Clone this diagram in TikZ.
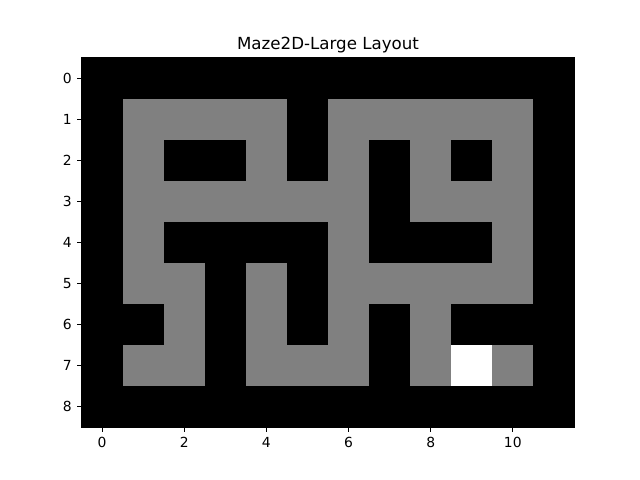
\documentclass[tikz,border=0pt]{standalone}
\usepackage{fontspec}
\setmainfont{DejaVu Sans}
\definecolor{mgrey}{RGB}{128,128,128}
\tikzset{
  tickline/.style={line width=0.8pt, black},
  ticklabel/.style={inner sep=0pt, font=\fontsize{10}{12}\selectfont},
  cellgrey/.style={fill=mgrey},
  cellwhite/.style={fill=white}
}
\begin{document}
\begin{tikzpicture}[x=0.72pt,y=-0.72pt]
\useasboundingbox (0,0) rectangle (640,480);
\fill[white] (0,0) rectangle (640,480);
\def\s{41.0667}
\def\xo{81.6}
\def\yo{57.6}
% background (walls)
\fill[black] (\xo,\yo) rectangle ++(492.8,369.6);
% open cells
\foreach \r/\cs in {1/{1,2,3,4,6,7,8,9,10},
                    2/{1,4,6,8,10},
                    3/{1,2,3,4,5,6,8,9,10},
                    4/{1,6,10},
                    5/{1,2,4,6,7,8,9,10},
                    6/{2,4,6,8},
                    7/{1,2,4,5,6,8,10}} {
  \foreach \c in \cs {
    \fill[cellgrey] ({\xo+\c*\s},{\yo+\r*\s}) rectangle ++(\s,\s);
  }
}
% goal cell
\fill[cellwhite] ({\xo+9*\s},{\yo+7*\s}) rectangle ++(\s,\s);
% frame
\draw[tickline] (\xo,\yo) rectangle ++(492.8,369.6);
% x ticks
\foreach \c in {0,2,4,6,8,10} {
  \draw[tickline] ({\xo+(\c+0.5)*\s},427.2) -- ++(0,4.86);
  \node[ticklabel, anchor=north] at ({\xo+(\c+0.5)*\s},436.9) {\c};
}
% y ticks
\foreach \r in {0,...,8} {
  \draw[tickline] (\xo,{\yo+(\r+0.5)*\s}) -- ++(-4.86,0);
  \node[ticklabel, anchor=east] at (71.9,{\yo+(\r+0.5)*\s}) {\r};
}
% title
\node[inner sep=0pt, anchor=base, font=\fontsize{12}{14}\selectfont] (title) at (328,49.3) {Maze2D-Large Layout};
\end{tikzpicture}
\end{document}
